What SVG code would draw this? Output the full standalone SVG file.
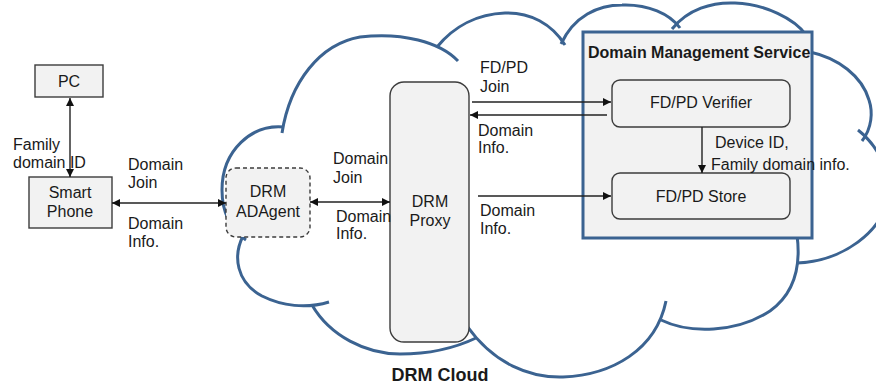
<svg xmlns="http://www.w3.org/2000/svg" width="876" height="385" viewBox="0 0 876 385">
  <defs>
    <marker id="ah" viewBox="0 0 10 10" refX="10" refY="5" markerWidth="8" markerHeight="8" markerUnits="userSpaceOnUse" orient="auto-start-reverse">
      <path d="M0,0 L10,5 L0,10 z" fill="#111"/>
    </marker>
    <style>
      .lobe { fill: none; stroke: #3b6391; stroke-width: 3; stroke-linecap: butt; }
      .box { fill: #f2f2f2; stroke: #3c3c3c; stroke-width: 1.4; }
      .dash { fill: #f2f2f2; stroke: #3c3c3c; stroke-width: 1.4; stroke-dasharray: 4 3; }
      .svc { fill: #f2f2f2; stroke: #3b6391; stroke-width: 3; }
      .t { font-family: "Liberation Sans", Arial, sans-serif; font-size: 16px; fill: #1a1a1a; }
      .c { text-anchor: middle; }
      .b { font-weight: bold; }
      .wire { fill: none; stroke: #222; stroke-width: 1.4; }
    </style>
  </defs>

  <rect width="876" height="385" fill="#ffffff"/>

  <!-- DRM cloud outline, built from overlapping lobes -->
  <g id="drm-cloud">
    <path class="lobe" d="M284,127 C252,124 222,150 222,190 C222,214 232,230 246,240"/>
    <path class="lobe" d="M243,236 C233,256 236,282 262,296 C282,306 306,309 329,302"/>
    <path class="lobe" d="M312,305 C330,336 366,354 400,354 C430,354 455,348 476,338"/>
    <path class="lobe" d="M467,326 C494,364 530,378 563,377 C612,375 656,350 666,301"/>
    <path class="lobe" d="M661,320 C690,334 736,333 770,311 C795,293 801,265 797,235"/>
    <path class="lobe" d="M797,263 C840,262 886,232 888,192 C889,168 877,145 858,130"/>
    <path class="lobe" d="M862,141 C872,128 873,112 869,100 C862,76 838,58 810,52"/>
    <path class="lobe" d="M806,35 C795,19 765,4 735,3 C712,2 688,9 672,29"/>
    <path class="lobe" d="M680,28 C670,14 648,4 622,5 C598,5 574,16 561,44"/>
    <path class="lobe" d="M565,45 C552,24 530,12 505,13 C478,14 454,26 437,47"/>
    <path class="lobe" d="M458,61 C440,42 402,32 360,37 C320,44 290,82 282,133"/>
    <text class="t c b" x="440" y="381" font-size="18" style="font-size:18px">DRM Cloud</text>
  </g>

  <g id="pc">
    <rect class="box" x="35" y="65" width="68" height="32"/>
    <text class="t c" x="69" y="87">PC</text>
  </g>

  <g id="smart-phone">
    <rect class="box" x="29" y="177" width="83" height="51"/>
    <text class="t c" x="70" y="198">Smart</text>
    <text class="t c" x="70" y="217">Phone</text>
  </g>

  <g id="drm-adagent">
    <rect class="dash" x="226" y="168" width="84" height="69" rx="10"/>
    <text class="t c" x="268" y="197">DRM</text>
    <text class="t c" x="268" y="217">ADAgent</text>
  </g>

  <g id="drm-proxy">
    <rect class="box" x="390" y="82" width="79" height="260" rx="14"/>
    <text class="t c" x="430" y="207">DRM</text>
    <text class="t c" x="430" y="226">Proxy</text>
  </g>

  <g id="domain-management-service">
    <rect class="svc" x="583" y="32" width="229" height="206"/>
    <text class="t b" x="588" y="58">Domain Management Service</text>
  </g>

  <g id="fdpd-verifier">
    <rect class="box" x="612" y="80" width="178" height="47" rx="8"/>
    <text class="t c" x="701" y="108">FD/PD Verifier</text>
  </g>

  <g id="fdpd-store">
    <rect class="box" x="612" y="173" width="178" height="46" rx="8"/>
    <text class="t c" x="701" y="202">FD/PD Store</text>
  </g>

  <g id="connectors">
    <!-- PC <-> Smart Phone -->
    <line class="wire" x1="70" y1="98" x2="70" y2="177" marker-start="url(#ah)" marker-end="url(#ah)"/>
    <text class="t" x="13" y="150">Family</text>
    <text class="t" x="13" y="168">domain ID</text>

    <!-- Smart Phone <-> DRM ADAgent -->
    <line class="wire" x1="112" y1="203" x2="226" y2="203" marker-start="url(#ah)" marker-end="url(#ah)"/>
    <text class="t" x="128" y="170">Domain</text>
    <text class="t" x="128" y="188">Join</text>
    <text class="t" x="128" y="229">Domain</text>
    <text class="t" x="128" y="247">Info.</text>

    <!-- DRM ADAgent <-> DRM Proxy -->
    <line class="wire" x1="310" y1="202" x2="390" y2="202" marker-start="url(#ah)" marker-end="url(#ah)"/>
    <text class="t" x="333" y="164">Domain</text>
    <text class="t" x="333" y="183">Join</text>
    <text class="t" x="336" y="222">Domain</text>
    <text class="t" x="336" y="239">Info.</text>

    <!-- DRM Proxy <-> FD/PD Verifier -->
    <line class="wire" x1="472" y1="102" x2="611" y2="102" marker-end="url(#ah)"/>
    <line class="wire" x1="607" y1="115" x2="470" y2="115" marker-end="url(#ah)"/>
    <text class="t" x="480" y="73">FD/PD</text>
    <text class="t" x="480" y="92">Join</text>
    <text class="t" x="478" y="136">Domain</text>
    <text class="t" x="478" y="153">Info.</text>

    <!-- DRM Proxy -> FD/PD Store -->
    <line class="wire" x1="478" y1="196" x2="611" y2="196" marker-end="url(#ah)"/>
    <text class="t" x="480" y="216">Domain</text>
    <text class="t" x="480" y="234">Info.</text>

    <!-- FD/PD Verifier -> FD/PD Store -->
    <line class="wire" x1="702" y1="127" x2="702" y2="173" marker-end="url(#ah)"/>
    <text class="t" x="715" y="148">Device ID,</text>
    <text class="t" x="711" y="170">Family domain info.</text>
  </g>
</svg>
